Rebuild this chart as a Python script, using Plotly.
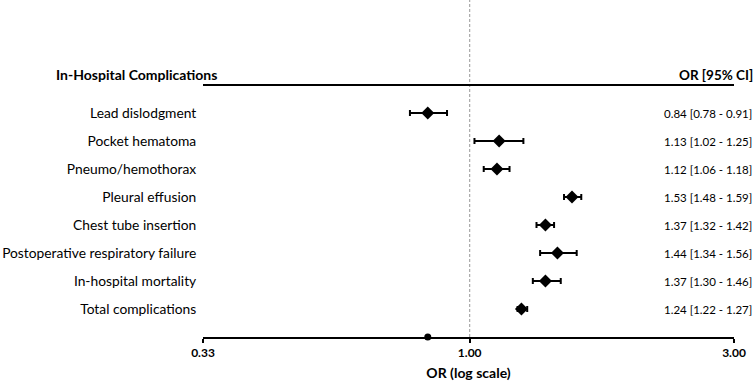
import plotly.graph_objects as go
import math

labels = ["Lead dislodgment", "Pocket hematoma", "Pneumo/hemothorax", "Pleural effusion",
          "Chest tube insertion", "Postoperative respiratory failure", "In-hospital mortality",
          "Total complications"]
or_vals = [0.84, 1.13, 1.12, 1.53, 1.37, 1.44, 1.37, 1.24]
ci_low = [0.78, 1.02, 1.06, 1.48, 1.32, 1.34, 1.30, 1.22]
ci_high = [0.91, 1.25, 1.18, 1.59, 1.42, 1.56, 1.46, 1.27]
x_tickvals = [0.33, 1.0, 3.0]
x_ticktext = ["0.33", "1.00", "3.00"]

n = len(labels)
rows = list(range(1, n + 1))
FONT = "Lato, Calibri, sans-serif"

fig = go.Figure()
fig.add_trace(go.Scatter(
    x=or_vals, y=rows, mode="markers",
    marker=dict(symbol="diamond", size=10, color="black"),
    error_x=dict(type="data", symmetric=False,
                 array=[h - o for h, o in zip(ci_high, or_vals)],
                 arrayminus=[o - l for o, l in zip(or_vals, ci_low)],
                 color="black", thickness=2, width=3),
    showlegend=False, hoverinfo="skip"))

# stray marker on the axis line
fig.add_trace(go.Scatter(x=[or_vals[0]], y=[n + 1], mode="markers",
                         marker=dict(symbol="circle", size=7, color="black"),
                         cliponaxis=False, showlegend=False, hoverinfo="skip"))

fig.add_shape(type="line", xref="x", yref="paper", x0=1, x1=1, y0=0, y1=1,
              line=dict(color="#999999", width=1, dash="3px,2px"), layer="below")
fig.add_shape(type="line", xref="paper", yref="y", x0=0, x1=1, y0=0, y1=0,
              line=dict(color="black", width=2))

annotations = []
for r, o, l, h in zip(rows, or_vals, ci_low, ci_high):
    annotations.append(dict(xref="paper", yref="y", x=1, y=r, xanchor="right", yanchor="middle",
                            xshift=20, showarrow=False,
                            text=f"{o:.2f} [{l:.2f} - {h:.2f}]",
                            font=dict(family=FONT, size=11.5, color="black")))
annotations.append(dict(xref="paper", yref="y", x=-0.126, y=0, xanchor="center", yanchor="bottom",
                        showarrow=False, text="<b>In-Hospital Complications</b>",
                        font=dict(family=FONT, size=14, color="black")))
annotations.append(dict(xref="paper", yref="y", x=1, y=0, xanchor="right", yanchor="bottom",
                        xshift=21, showarrow=False, text="<b>OR [95% CI]</b>",
                        font=dict(family=FONT, size=13.5, color="black")))

top_val = (n + 1) - 337 / 28.0

fig.update_layout(
    width=756, height=383,
    margin=dict(l=203, r=22, t=0, b=46),
    paper_bgcolor="white", plot_bgcolor="white",
    font=dict(family=FONT, color="black"),
    annotations=annotations,
    xaxis=dict(type="log", range=[math.log10(0.33), math.log10(3.0)],
               tickvals=x_tickvals, ticktext=x_ticktext,
               showline=True, linecolor="black", linewidth=2,
               ticks="outside", ticklen=4, tickwidth=2, tickcolor="black",
               tickfont=dict(family=FONT, size=12, color="black", weight="bold"),
               showgrid=False, zeroline=False,
               title=dict(text="<b>OR (log scale)</b>", standoff=9,
                          font=dict(family=FONT, size=14, color="black"))),
    yaxis=dict(range=[n + 1, top_val], tickvals=rows, ticktext=labels,
               showline=False, showgrid=False, zeroline=False,
               ticks="outside", ticklen=3, tickcolor="rgba(0,0,0,0)",
               tickfont=dict(family=FONT, size=13.8, color="black")),
)

fig.write_html("out.html")
